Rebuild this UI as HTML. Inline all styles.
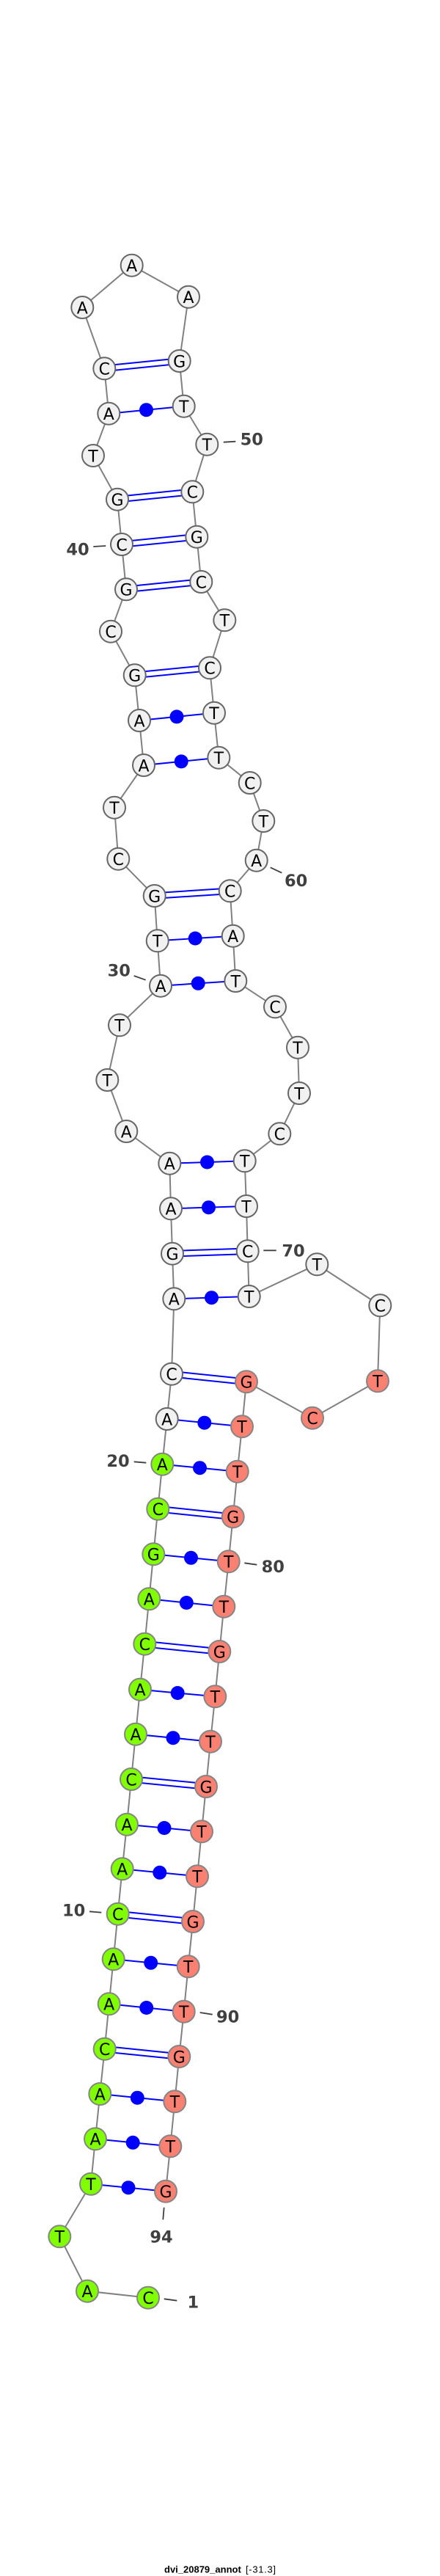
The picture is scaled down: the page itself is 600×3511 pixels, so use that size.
<!DOCTYPE html>
<html><head><meta charset="utf-8"><title>dvi_20879_annot</title>
<style>
html,body{margin:0;padding:0;background:#fff}
svg{display:block}
.n text,.r text,.g text{font-family:"DejaVu Sans",sans-serif;font-size:22px;text-anchor:middle;fill:#000;stroke:none}
circle{stroke-width:2}
.n circle{fill:#f1f1f1;stroke:#666}
.r circle{fill:#fa8072;stroke:#858585}
.g circle{fill:#7fff00;stroke:#858585}
.lab text{font-family:"DejaVu Sans",sans-serif;font-weight:bold;font-size:22.5px;fill:#404040;text-anchor:middle}
.lab line{stroke:#404040;stroke-width:1.8}
</style></head><body>
<svg xmlns="http://www.w3.org/2000/svg" width="600" height="3511" viewBox="0 0 600 3511">
<polyline fill="none" stroke="#808080" stroke-width="2" points="202,3131.7 119,3122.7 81.3,3048.3 124,2976.7 130,2915.3 136.3,2854 142.7,2792.7 148.7,2731.3 154.7,2670.3 160.7,2608.7 166.7,2547.3 173,2486.7 179,2425 185,2363.7 191,2302.7 197.3,2240.7 203.3,2179.3 209.3,2118.3 215.3,2056.7 221.3,1995.7 227.7,1934 234,1872.7 237.3,1770.3 235,1708.7 233,1647.3 231.3,1585.7 172.3,1542 146.3,1472 163,1397.3 219,1343.7 214.7,1282.3 210.7,1221 161.3,1170.7 156,1100.7 196,1043 190,982 183.7,920.3 151,860.7 172,803.3 166,742 160,680.7 127,621 148.3,563.7 142.3,502.3 112.3,419 179.7,361.7 257,404.7 244.7,492 250.7,553.7 282.3,605.7 262.3,670.3 268.3,731.7 274.3,793 306.3,845.3 286,910.3 292,971.7 298.3,1032.7 340.7,1067 359.3,1119 349.7,1172.7 313.7,1214.3 317.7,1275.7 321.3,1337 375,1372.3 406,1427.7 408,1490 381.3,1545.3 333.7,1582.3 336,1644 337.7,1705.3 339.7,1767 432.3,1723.3 518.3,1779.3 515,1882.3 426,1932.7 336,1883.3 330,1944.3 323.7,2005.7 317.7,2067.3 311.7,2128.3 305.3,2189.7 299.3,2251 293.3,2312.3 287,2373.7 281,2435 275,2496.3 269,2557.3 263,2619 256.7,2680.3 250.7,2741.7 244.3,2803 238.3,2864.3 232.3,2925.3 226,2986.7"/>
<g stroke="#0000ff" stroke-width="2" fill="none">
<path d="M124 2976.7L226 2986.7M130 2915.3L232.3 2925.3M136.3 2854L238.3 2864.3M148.7 2731.3L250.7 2741.7M154.7 2670.3L256.7 2680.3M166.7 2547.3L269 2557.3M173 2486.7L275 2496.3M185 2363.7L287 2373.7M191 2302.7L293.3 2312.3M203.3 2179.3L305.3 2189.7M209.3 2118.3L311.7 2128.3M221.3 1995.7L323.7 2005.7M227.7 1934L330 1944.3M237.3 1770.3L339.7 1767M233 1647.3L336 1644M231.3 1585.7L333.7 1582.3M219 1343.7L321.3 1337M214.7 1282.3L317.7 1275.7M196 1043L298.3 1032.7M190 982L292 971.7M148.3 563.7L250.7 553.7"/>
<path d="M142.7 2788.9L244.3 2799.2M142.7 2796.5L244.3 2806.8M160.7 2604.9L263 2615.2M160.7 2612.5L263 2622.8M179 2421.2L281 2431.2M179 2428.8L281 2438.8M197.3 2236.9L299.3 2247.2M197.3 2244.5L299.3 2254.8M215.3 2052.9L317.7 2063.5M215.3 2060.5L317.7 2071.1M234 1868.9L336 1879.5M234 1876.5L336 1887.1M235 1704.9L337.7 1701.5M235 1712.5L337.7 1709.1M210.7 1217.2L313.7 1210.5M210.7 1224.8L313.7 1218.1M183.7 916.5L286 906.5M183.7 924.1L286 914.1M172 799.5L274.3 789.2M172 807.1L274.3 796.8M166 738.2L268.3 727.9M166 745.8L268.3 735.5M160 676.9L262.3 666.5M160 684.5L262.3 674.1M142.3 498.5L244.7 488.2M142.3 506.1L244.7 495.8"/>
</g>
<g fill="#0000ff" stroke="none">
<ellipse cx="175" cy="2981.7" rx="9.5" ry="9.5"/><ellipse cx="181.2" cy="2920.3" rx="9.5" ry="9.5"/><ellipse cx="187.3" cy="2859.2" rx="9.5" ry="9.5"/><ellipse cx="199.7" cy="2736.5" rx="9.5" ry="9.5"/><ellipse cx="205.7" cy="2675.3" rx="9.5" ry="9.5"/><ellipse cx="217.8" cy="2552.3" rx="9.5" ry="9.5"/><ellipse cx="224" cy="2491.5" rx="9.5" ry="9.5"/><ellipse cx="236" cy="2368.7" rx="9.5" ry="9.5"/><ellipse cx="242.2" cy="2307.5" rx="9.5" ry="9.5"/><ellipse cx="254.3" cy="2184.5" rx="9.5" ry="9.5"/><ellipse cx="260.5" cy="2123.3" rx="9.5" ry="9.5"/><ellipse cx="272.5" cy="2000.7" rx="9.5" ry="9.5"/><ellipse cx="278.8" cy="1939.2" rx="9.5" ry="9.5"/><ellipse cx="288.5" cy="1768.7" rx="9.5" ry="9.5"/><ellipse cx="284.5" cy="1645.7" rx="9.5" ry="9.5"/><ellipse cx="282.5" cy="1584" rx="9.5" ry="9.5"/><ellipse cx="270.2" cy="1340.3" rx="9.5" ry="9.5"/><ellipse cx="266.2" cy="1279" rx="9.5" ry="9.5"/><ellipse cx="247.2" cy="1037.9" rx="9.5" ry="9.5"/><ellipse cx="241" cy="976.9" rx="9.5" ry="9.5"/><ellipse cx="199.5" cy="558.7" rx="9.5" ry="9.5"/>
</g>
<g class="g">
<circle cx="202" cy="3131.7" r="15"/><text x="202" y="3140">C</text>
<circle cx="119" cy="3122.7" r="15"/><text x="119" y="3131">A</text>
<circle cx="81.3" cy="3048.3" r="15"/><text x="81.3" y="3056.6">T</text>
<circle cx="124" cy="2976.7" r="15"/><text x="124" y="2985">T</text>
<circle cx="130" cy="2915.3" r="15"/><text x="130" y="2923.6">A</text>
<circle cx="136.3" cy="2854" r="15"/><text x="136.3" y="2862.3">A</text>
<circle cx="142.7" cy="2792.7" r="15"/><text x="142.7" y="2801">C</text>
<circle cx="148.7" cy="2731.3" r="15"/><text x="148.7" y="2739.6">A</text>
<circle cx="154.7" cy="2670.3" r="15"/><text x="154.7" y="2678.6">A</text>
<circle cx="160.7" cy="2608.7" r="15"/><text x="160.7" y="2617">C</text>
<circle cx="166.7" cy="2547.3" r="15"/><text x="166.7" y="2555.6">A</text>
<circle cx="173" cy="2486.7" r="15"/><text x="173" y="2495">A</text>
<circle cx="179" cy="2425" r="15"/><text x="179" y="2433.3">C</text>
<circle cx="185" cy="2363.7" r="15"/><text x="185" y="2372">A</text>
<circle cx="191" cy="2302.7" r="15"/><text x="191" y="2311">A</text>
<circle cx="197.3" cy="2240.7" r="15"/><text x="197.3" y="2249">C</text>
<circle cx="203.3" cy="2179.3" r="15"/><text x="203.3" y="2187.6">A</text>
<circle cx="209.3" cy="2118.3" r="15"/><text x="209.3" y="2126.6">G</text>
<circle cx="215.3" cy="2056.7" r="15"/><text x="215.3" y="2065">C</text>
<circle cx="221.3" cy="1995.7" r="15"/><text x="221.3" y="2004">A</text>
</g>
<g class="n">
<circle cx="227.7" cy="1934" r="15"/><text x="227.7" y="1942.3">A</text>
<circle cx="234" cy="1872.7" r="15"/><text x="234" y="1881">C</text>
<circle cx="237.3" cy="1770.3" r="15"/><text x="237.3" y="1778.6">A</text>
<circle cx="235" cy="1708.7" r="15"/><text x="235" y="1717">G</text>
<circle cx="233" cy="1647.3" r="15"/><text x="233" y="1655.6">A</text>
<circle cx="231.3" cy="1585.7" r="15"/><text x="231.3" y="1594">A</text>
<circle cx="172.3" cy="1542" r="15"/><text x="172.3" y="1550.3">A</text>
<circle cx="146.3" cy="1472" r="15"/><text x="146.3" y="1480.3">T</text>
<circle cx="163" cy="1397.3" r="15"/><text x="163" y="1405.6">T</text>
<circle cx="219" cy="1343.7" r="15"/><text x="219" y="1352">A</text>
<circle cx="214.7" cy="1282.3" r="15"/><text x="214.7" y="1290.6">T</text>
<circle cx="210.7" cy="1221" r="15"/><text x="210.7" y="1229.3">G</text>
<circle cx="161.3" cy="1170.7" r="15"/><text x="161.3" y="1179">C</text>
<circle cx="156" cy="1100.7" r="15"/><text x="156" y="1109">T</text>
<circle cx="196" cy="1043" r="15"/><text x="196" y="1051.3">A</text>
<circle cx="190" cy="982" r="15"/><text x="190" y="990.3">A</text>
<circle cx="183.7" cy="920.3" r="15"/><text x="183.7" y="928.6">G</text>
<circle cx="151" cy="860.7" r="15"/><text x="151" y="869">C</text>
<circle cx="172" cy="803.3" r="15"/><text x="172" y="811.6">G</text>
<circle cx="166" cy="742" r="15"/><text x="166" y="750.3">C</text>
<circle cx="160" cy="680.7" r="15"/><text x="160" y="689">G</text>
<circle cx="127" cy="621" r="15"/><text x="127" y="629.3">T</text>
<circle cx="148.3" cy="563.7" r="15"/><text x="148.3" y="572">A</text>
<circle cx="142.3" cy="502.3" r="15"/><text x="142.3" y="510.6">C</text>
<circle cx="112.3" cy="419" r="15"/><text x="112.3" y="427.3">A</text>
<circle cx="179.7" cy="361.7" r="15"/><text x="179.7" y="370">A</text>
<circle cx="257" cy="404.7" r="15"/><text x="257" y="413">A</text>
<circle cx="244.7" cy="492" r="15"/><text x="244.7" y="500.3">G</text>
<circle cx="250.7" cy="553.7" r="15"/><text x="250.7" y="562">T</text>
<circle cx="282.3" cy="605.7" r="15"/><text x="282.3" y="614">T</text>
<circle cx="262.3" cy="670.3" r="15"/><text x="262.3" y="678.6">C</text>
<circle cx="268.3" cy="731.7" r="15"/><text x="268.3" y="740">G</text>
<circle cx="274.3" cy="793" r="15"/><text x="274.3" y="801.3">C</text>
<circle cx="306.3" cy="845.3" r="15"/><text x="306.3" y="853.6">T</text>
<circle cx="286" cy="910.3" r="15"/><text x="286" y="918.6">C</text>
<circle cx="292" cy="971.7" r="15"/><text x="292" y="980">T</text>
<circle cx="298.3" cy="1032.7" r="15"/><text x="298.3" y="1041">T</text>
<circle cx="340.7" cy="1067" r="15"/><text x="340.7" y="1075.3">C</text>
<circle cx="359.3" cy="1119" r="15"/><text x="359.3" y="1127.3">T</text>
<circle cx="349.7" cy="1172.7" r="15"/><text x="349.7" y="1181">A</text>
<circle cx="313.7" cy="1214.3" r="15"/><text x="313.7" y="1222.6">C</text>
<circle cx="317.7" cy="1275.7" r="15"/><text x="317.7" y="1284">A</text>
<circle cx="321.3" cy="1337" r="15"/><text x="321.3" y="1345.3">T</text>
<circle cx="375" cy="1372.3" r="15"/><text x="375" y="1380.6">C</text>
<circle cx="406" cy="1427.7" r="15"/><text x="406" y="1436">T</text>
<circle cx="408" cy="1490" r="15"/><text x="408" y="1498.3">T</text>
<circle cx="381.3" cy="1545.3" r="15"/><text x="381.3" y="1553.6">C</text>
<circle cx="333.7" cy="1582.3" r="15"/><text x="333.7" y="1590.6">T</text>
<circle cx="336" cy="1644" r="15"/><text x="336" y="1652.3">T</text>
<circle cx="337.7" cy="1705.3" r="15"/><text x="337.7" y="1713.6">C</text>
<circle cx="339.7" cy="1767" r="15"/><text x="339.7" y="1775.3">T</text>
<circle cx="432.3" cy="1723.3" r="15"/><text x="432.3" y="1731.6">T</text>
<circle cx="518.3" cy="1779.3" r="15"/><text x="518.3" y="1787.6">C</text>
</g>
<g class="r">
<circle cx="515" cy="1882.3" r="15"/><text x="515" y="1890.6">T</text>
<circle cx="426" cy="1932.7" r="15"/><text x="426" y="1941">C</text>
<circle cx="336" cy="1883.3" r="15"/><text x="336" y="1891.6">G</text>
<circle cx="330" cy="1944.3" r="15"/><text x="330" y="1952.6">T</text>
<circle cx="323.7" cy="2005.7" r="15"/><text x="323.7" y="2014">T</text>
<circle cx="317.7" cy="2067.3" r="15"/><text x="317.7" y="2075.6">G</text>
<circle cx="311.7" cy="2128.3" r="15"/><text x="311.7" y="2136.6">T</text>
<circle cx="305.3" cy="2189.7" r="15"/><text x="305.3" y="2198">T</text>
<circle cx="299.3" cy="2251" r="15"/><text x="299.3" y="2259.3">G</text>
<circle cx="293.3" cy="2312.3" r="15"/><text x="293.3" y="2320.6">T</text>
<circle cx="287" cy="2373.7" r="15"/><text x="287" y="2382">T</text>
<circle cx="281" cy="2435" r="15"/><text x="281" y="2443.3">G</text>
<circle cx="275" cy="2496.3" r="15"/><text x="275" y="2504.6">T</text>
<circle cx="269" cy="2557.3" r="15"/><text x="269" y="2565.6">T</text>
<circle cx="263" cy="2619" r="15"/><text x="263" y="2627.3">G</text>
<circle cx="256.7" cy="2680.3" r="15"/><text x="256.7" y="2688.6">T</text>
<circle cx="250.7" cy="2741.7" r="15"/><text x="250.7" y="2750">T</text>
<circle cx="244.3" cy="2803" r="15"/><text x="244.3" y="2811.3">G</text>
<circle cx="238.3" cy="2864.3" r="15"/><text x="238.3" y="2872.6">T</text>
<circle cx="232.3" cy="2925.3" r="15"/><text x="232.3" y="2933.6">T</text>
<circle cx="226" cy="2986.7" r="15"/><text x="226" y="2995">G</text>
</g>
<g class="lab">
<line x1="304.7" y1="602.7" x2="321.3" y2="601.7"/><text x="343.3" y="606.5">50</text>
<line x1="127.3" y1="745" x2="144.3" y2="744"/><text x="106" y="756.5">40</text>
<line x1="368.7" y1="1182.3" x2="384.3" y2="1189.7"/><text x="403.7" y="1208.2">60</text>
<line x1="182.7" y1="1330" x2="198.7" y2="1335.7"/><text x="162.3" y="1330.5">30</text>
<line x1="359.3" y1="1704.3" x2="376.7" y2="1704.3"/><text x="400" y="1712.5">70</text>
<line x1="182.7" y1="1992.3" x2="199.3" y2="1993.7"/><text x="161" y="1998.9">20</text>
<line x1="333.3" y1="2130.3" x2="350.3" y2="2132.7"/><text x="372.3" y="2143.2">80</text>
<line x1="122" y1="2605.3" x2="138.3" y2="2606.7"/><text x="100.7" y="2611.5">10</text>
<line x1="272.7" y1="2743" x2="289.7" y2="2745.7"/><text x="310.7" y="2756.5">90</text>
<line x1="223.7" y1="3008.7" x2="222.3" y2="3025.3"/><text x="220" y="3056.5">94</text>
<line x1="223.7" y1="3133.3" x2="241.3" y2="3135.7"/><text x="263.3" y="3145.5">1</text>
</g>
<text x="224" y="3506.5" font-family="'Liberation Sans',sans-serif" font-size="13" font-weight="bold" fill="#000">dvi_20879_annot</text>
<text x="335" y="3506.5" font-family="'Liberation Sans',sans-serif" font-size="13" fill="#000" textLength="41">[-31.3]</text>
</svg>
</body></html>
